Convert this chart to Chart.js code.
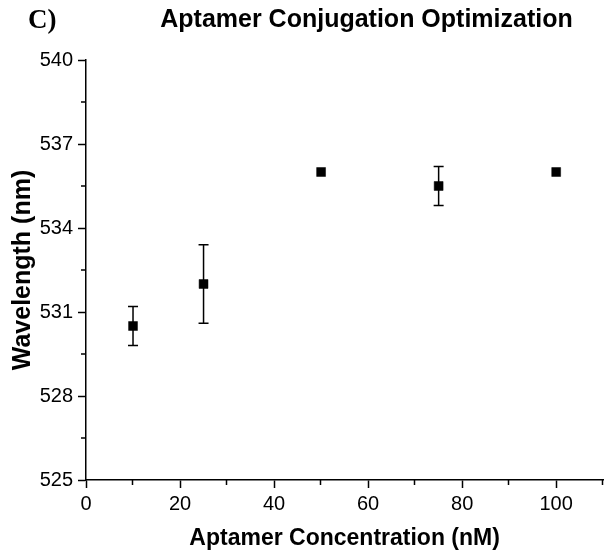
<!DOCTYPE html>
<html>
<head>
<meta charset="utf-8">
<script src="https://cdn.jsdelivr.net/npm/chart.js@4/dist/chart.umd.min.js"></script>
<style>
  html, body { margin: 0; padding: 0; background: #fff; }
  #wrap { position: relative; width: 610px; height: 552px; }
  #panel { position: absolute; left: 28px; top: 4px; font: bold 27px "Liberation Serif", "Times New Roman", serif; color: #000; }
  #title { position: absolute; left: 160px; top: 4px; width: 413px; text-align: center; font: bold 25px "Liberation Sans", Arial, sans-serif; color: #000; white-space: nowrap; }
  canvas { position: absolute; left: 0; top: 0; }
</style>
</head>
<body>
<div id="wrap">
  <canvas id="c" width="610" height="552"></canvas>
  <div id="panel">C)</div>
  <div id="title">Aptamer Conjugation Optimization</div>
</div>
<script>
const concentrations = [10, 25, 50, 75, 100];
const wavelengths = [530.5, 532, 536, 535.5, 536];
const errors = [0.7, 1.4, 0, 0.7, 0];
const xMajorTicks = [0, 20, 40, 60, 80, 100];
const xMinorTicks = [10, 30, 50, 70, 90, 110];
const yMajorTicks = [525, 528, 531, 534, 537, 540];
const yMinorTicks = [526.5, 529.5, 532.5, 535.5, 538.5];

const FONT = '"Liberation Sans", Arial, sans-serif';

const errorBars = {
  id: 'errorBars',
  beforeDatasetsDraw(chart) {
    const ctx = chart.ctx, xs = chart.scales.x, ys = chart.scales.y;
    ctx.save();
    ctx.strokeStyle = '#000';
    ctx.lineWidth = 1.5;
    concentrations.forEach((c, i) => {
      const e = errors[i];
      if (!e) return;
      const x = xs.getPixelForValue(c);
      const yt = ys.getPixelForValue(wavelengths[i] + e);
      const yb = ys.getPixelForValue(wavelengths[i] - e);
      ctx.beginPath();
      ctx.moveTo(x, yt); ctx.lineTo(x, yb);
      ctx.moveTo(x - 5, yt); ctx.lineTo(x + 5, yt);
      ctx.moveTo(x - 5, yb); ctx.lineTo(x + 5, yb);
      ctx.stroke();
    });
    ctx.restore();
  }
};

const minorTicks = {
  id: 'minorTicks',
  afterDraw(chart) {
    const ctx = chart.ctx, xs = chart.scales.x, ys = chart.scales.y;
    const a = chart.chartArea;
    ctx.save();
    ctx.strokeStyle = '#000';
    ctx.lineWidth = 1.5;
    ctx.beginPath();
    xMinorTicks.forEach(v => {
      const x = Math.round(xs.getPixelForValue(v)) - 0.5;
      ctx.moveTo(x, a.bottom); ctx.lineTo(x, a.bottom + 5);
    });
    yMinorTicks.forEach(v => {
      const y = ys.getPixelForValue(v);
      ctx.moveTo(a.left, y); ctx.lineTo(a.left - 5, y);
    });
    ctx.stroke();
    ctx.restore();
  }
};

new Chart(document.getElementById('c'), {
  type: 'scatter',
  data: {
    datasets: [{
      data: concentrations.map((c, i) => ({ x: c, y: wavelengths[i] })),
      pointStyle: 'rect',
      pointRadius: 6.3,
      pointHoverRadius: 6.3,
      backgroundColor: '#000',
      borderColor: '#000',
      borderWidth: 0.5,
      showLine: false
    }]
  },
  options: {
    responsive: false,
    animation: false,
    events: [],
    layout: { padding: { top: 60, right: 1, left: 0, bottom: 0 } },
    plugins: { legend: { display: false }, tooltip: { enabled: false }, title: { display: false } },
    scales: {
      x: {
        type: 'linear', min: 0, max: 110,
        afterBuildTicks(s) { s.ticks = xMajorTicks.map(v => ({ value: v })); },
        afterFit(s) { s.height = 72; },
        grid: { display: true, drawOnChartArea: false, drawTicks: true, tickLength: 8, color: '#000', tickWidth: 1.5 },
        border: { display: true, color: '#000', width: 1.5 },
        ticks: { color: '#000', font: { family: FONT, size: 20 }, padding: 4, maxRotation: 0 },
        title: { display: true, text: 'Aptamer Concentration (nM)', color: '#000', font: { family: FONT, size: 23, weight: 'bold' }, padding: { top: 4, bottom: 0 } }
      },
      y: {
        type: 'linear', min: 525, max: 540,
        afterBuildTicks(s) { s.ticks = yMajorTicks.map(v => ({ value: v })); },
        afterFit(s) { s.width = 86; },
        grid: { display: true, drawOnChartArea: false, drawTicks: true, tickLength: 8, color: '#000', tickWidth: 1.5 },
        border: { display: true, color: '#000', width: 1.5 },
        ticks: { color: '#000', font: { family: FONT, size: 20 }, padding: 5 },
        title: { display: true, text: 'Wavelength (nm)', color: '#000', font: { family: FONT, size: 25, weight: 'bold' }, padding: { top: 8, bottom: 0 } }
      }
    }
  },
  plugins: [errorBars, minorTicks]
});
</script>
</body>
</html>
